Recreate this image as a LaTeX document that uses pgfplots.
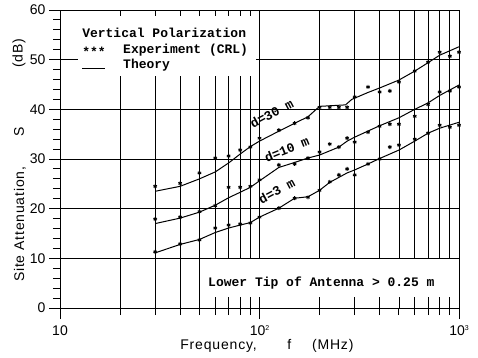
\documentclass[border=0pt]{standalone}
\usepackage{fontspec}
\setmainfont{Liberation Sans}
\newfontfamily\cour{Liberation Mono}
\newfontfamily\labfont[LetterSpace=6]{Liberation Sans}
\usepackage{pgfplots}
\pgfplotsset{compat=1.18}

\pgfplotstableread{
f s
30 23.5
40 24.5
50 26.0
60 27.4
70 29.2
80 31.0
90 32.5
100 33.6
125 35.6
150 37.2
175 38.5
200 40.6
270 40.9
290 42.0
350 43.4
400 44.3
500 45.9
600 47.7
700 49.4
800 50.9
1000 52.6
}\thA
\pgfplotstableread{
f s
30 17.0
40 18.1
50 19.3
60 20.7
70 22.2
80 23.3
90 24.3
100 25.6
125 28.3
150 29.3
175 30.2
200 30.8
250 32.4
275 33.6
300 34.4
400 36.7
500 38.3
600 40.0
700 41.3
800 42.8
900 43.9
1000 44.9
}\thB
\pgfplotstableread{
f s
30 11.1
40 12.8
50 13.8
60 15.2
70 16.1
80 16.7
90 17.2
100 18.3
125 20.1
150 22.1
175 22.4
200 23.7
225 25.3
250 26.3
275 27.2
300 27.8
350 29.0
400 30.1
500 31.8
600 33.6
700 35.2
800 36.2
1000 37.4
}\thC
\pgfplotstableread{
f s
30 24.5
40 25.1
50 27.2
60 30.2
70 30.6
80 31.8
90 32.4
100 34.2
125 35.8
150 37.2
175 38.3
200 40.4
225 40.4
250 40.4
275 40.4
300 42.5
350 44.5
400 43.5
450 43.7
500 45.5
600 47.7
700 49.5
800 51.5
900 50.7
1000 51.5
}\exA
\pgfplotstableread{
f s
30 17.9
40 18.3
50 19.4
60 20.6
70 24.3
80 24.3
90 24.5
100 25.8
125 28.8
150 29.0
175 30.2
200 31.4
225 33.0
250 32.4
275 34.2
300 33.4
350 35.4
400 36.6
450 37.0
500 37.0
600 38.6
700 41.0
800 43.5
900 43.7
1000 44.5
}\exB
\pgfplotstableread{
f s
30 11.3
40 12.9
50 13.7
60 16.1
70 16.7
80 16.9
90 17.1
100 18.3
125 20.1
150 22.1
175 22.3
200 23.7
225 25.4
250 26.8
275 28.0
300 26.8
350 29.0
400 30.0
450 32.4
500 32.8
600 34.0
700 35.2
800 36.8
900 36.4
1000 36.8
}\exC

\begin{document}
\begin{tikzpicture}
\useasboundingbox (-60pt,-49pt) rectangle (418pt,308pt);
\begin{axis}[
  scale only axis, width=399pt, height=298pt,
  xmode=log, log basis x=10,
  xmin=10, xmax=1000, ymin=0, ymax=60,
  xtick={10,100,1000},
  xticklabels={10,10\raisebox{5pt}{\fontsize{7}{8}\selectfont 2},10\raisebox{5pt}{\fontsize{7}{8}\selectfont 3}},
  minor xtick={20,30,40,50,60,70,80,90,200,300,400,500,600,700,800,900},
  ytick={0,10,...,60},
  minor ytick={2,4,...,58},
  xmajorgrids=true, xminorgrids=true, ymajorgrids=true,
  major grid style={black, line width=0.9pt},
  minor grid style={black, line width=0.9pt},
  xtick pos=bottom, ytick pos=left,
  tick align=outside,
  major tick length=11pt, minor tick length=7pt,
  every tick/.style={black, line width=1pt},
  axis line style={line width=1pt},
  /pgf/number format/assume math mode=true,
  tick label style={font=\fontsize{14}{16}\selectfont},
  xticklabel style={yshift=-3pt},
  clip=false,
]
% white boxes hiding the grid behind the annotations
\fill[white] (axis cs:12.3,46.8) rectangle (axis cs:96.5,58.7);
\fill[white] (axis cs:52,2.3) rectangle (axis cs:985,9.8);

\addplot[black, line width=1pt] table[x=f,y=s] {\thA};
\addplot[black, line width=1pt] table[x=f,y=s] {\thB};
\addplot[black, line width=1pt] table[x=f,y=s] {\thC};
\addplot[only marks, mark=asterisk, mark size=2pt, mark options={line width=0.9pt}] table[x=f,y=s] {\exA};
\addplot[only marks, mark=asterisk, mark size=2pt, mark options={line width=0.9pt}] table[x=f,y=s] {\exB};
\addplot[only marks, mark=asterisk, mark size=2pt, mark options={line width=0.9pt}] table[x=f,y=s] {\exC};

% legend
\node[anchor=west, font=\cour\bfseries\fontsize{13}{15}\selectfont, inner sep=0pt] at (axis cs:12.9,55.3) {Vertical Polarization};
\node[anchor=west, font=\cour\bfseries\fontsize{13}{15}\selectfont, inner sep=0pt] at (axis cs:12.9,51.6) {***};
\node[anchor=west, font=\cour\bfseries\fontsize{13}{15}\selectfont, inner sep=0pt] at (axis cs:20.7,51.9) {Experiment (CRL)};
\draw[line width=1pt] (axis cs:12.9,48.3) -- (axis cs:16.8,48.3);
\node[anchor=west, font=\cour\bfseries\fontsize{13}{15}\selectfont, inner sep=0pt] at (axis cs:20.7,48.9) {Theory};

% curve labels
\node[rotate=28, font=\cour\bfseries\fontsize{13}{15}\selectfont, inner sep=0pt] at (axis cs:115,39.2) {d=30 m};
\node[rotate=22, font=\cour\bfseries\fontsize{13}{15}\selectfont, inner sep=0pt] at (axis cs:137,32.0) {d=10 m};
\node[rotate=28, font=\cour\bfseries\fontsize{13}{15}\selectfont, inner sep=0pt] at (axis cs:122,23.6) {d=3 m};

% annotation
\node[anchor=west, font=\cour\bfseries\fontsize{13}{15}\selectfont, inner sep=0pt] at (axis cs:55.2,5.0) {Lower Tip of Antenna > 0.25 m};

% anchor points for axis labels
\coordinate (ylA) at (axis cs:10,5.2);
\coordinate (ylB) at (axis cs:10,35.4);
\coordinate (ylC) at (axis cs:10,51.3);
\coordinate (xlA) at (axis cs:40,0);
\coordinate (xlB) at (axis cs:141,0);
\coordinate (xlC) at (axis cs:183,0);
\end{axis}
\node[rotate=90, anchor=west, font=\labfont\fontsize{14}{16}\selectfont, inner sep=0pt] at ([xshift=-40pt]ylA) {Site Attenuation,};
\node[rotate=90, font=\labfont\fontsize{14}{16}\selectfont, inner sep=0pt] at ([xshift=-41pt]ylB) {S};
\node[rotate=90, font=\labfont\fontsize{14}{16}\selectfont, inner sep=0pt] at ([xshift=-41pt]ylC) {(dB)};
\node[anchor=base west, font=\labfont\fontsize{14}{16}\selectfont, inner sep=0pt] at ([yshift=-41pt]xlA) {Frequency,};
\node[anchor=base, font=\labfont\fontsize{14}{16}\selectfont, inner sep=0pt] at ([yshift=-41pt]xlB) {f};
\node[anchor=base west, font=\labfont\fontsize{14}{16}\selectfont, inner sep=0pt] at ([yshift=-41pt]xlC) {(MHz)};
\end{tikzpicture}
\end{document}
